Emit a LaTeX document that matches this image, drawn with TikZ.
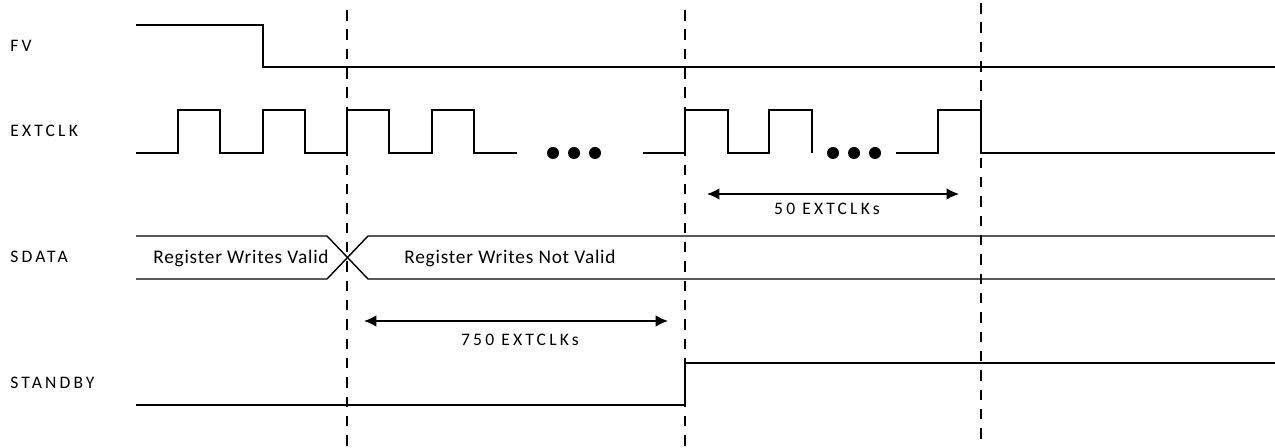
\documentclass[tikz,border=0pt]{standalone}
\usepackage{fontspec}
\setmainfont{Carlito}
\usetikzlibrary{arrows.meta}
\begin{document}
\begin{tikzpicture}[x=0.02cm,y=-0.02cm,
  wave/.style={line width=0.8pt},
  guide/.style={line width=0.7pt,dash pattern=on 6pt off 5pt},
  span/.style={line width=0.8pt,{Latex[length=7pt,width=6.5pt]}-{Latex[length=7pt,width=6.5pt]}},
  sig/.style={anchor=base west,inner sep=0pt,font=\fontsize{10}{12}\selectfont\addfontfeatures{LetterSpace=18}},
  cnt/.style={anchor=base,inner sep=0pt,font=\fontsize{10}{12}\selectfont\addfontfeatures{LetterSpace=18}},
  txt/.style={inner sep=0pt,font=\fontsize{11}{13}\selectfont\addfontfeatures{LetterSpace=4}}]
\useasboundingbox (0,0) rectangle (1275,448);
% signal names
\node[sig] (fv) at (10,52) {FV};
\node[sig] (clk) at (10,137) {EXTCLK};
\node[sig] (sdata) at (10,263) {SDATA};
\node[sig] (stby) at (10,389) {STANDBY};
% FV
\draw[wave] (136,25) -- (263,25) -- (263,67) -- (1275,67);
% EXTCLK
\draw[wave] (136,153) -- (178,153) -- (178,110) -- (220,110) -- (220,153) -- (263,153)
  -- (263,110) -- (305,110) -- (305,153) -- (347,153) -- (347,110) -- (389,110)
  -- (389,153) -- (432,153) -- (432,110) -- (474,110) -- (474,153) -- (517,153);
\draw[wave] (643,153) -- (685,153) -- (685,110) -- (728,110) -- (728,153) -- (769,153)
  -- (769,110) -- (812,110) -- (812,153);
\draw[wave] (896,153) -- (938,153) -- (938,110) -- (981,110) -- (981,153) -- (1275,153);
\foreach \x in {553,574,595,833,854,875}
  \fill (\x,153) circle[radius=0.12cm];
% SDATA
\draw[wave] (136,236) -- (327,236) -- (368,279) -- (1275,279);
\draw[wave] (136,279) -- (327,279) -- (368,236) -- (1275,236);
\node[txt] (valid) at (241,258) {Register Writes Valid};
\node[txt] (notvalid) at (510,258) {Register Writes Not Valid};
% STANDBY
\draw[wave] (136,405) -- (685,405) -- (685,363) -- (1275,363);
% guides
\draw[guide] (347,10) -- (347,448);
\draw[guide] (685,10) -- (685,448);
\draw[guide] (981,3) -- (981,442);
% spans
\coordinate (a1) at (364,321);
\coordinate (a2) at (668,321);
\draw[span] (a1) -- (a2);
\node[cnt] (n750) at (520,346) {750 EXTCLKs};
\coordinate (b1) at (707,194);
\coordinate (b2) at (959,194);
\draw[span] (b1) -- (b2);
\node[cnt] (n50) at (827,215) {50 EXTCLKs};
\end{tikzpicture}
\end{document}
